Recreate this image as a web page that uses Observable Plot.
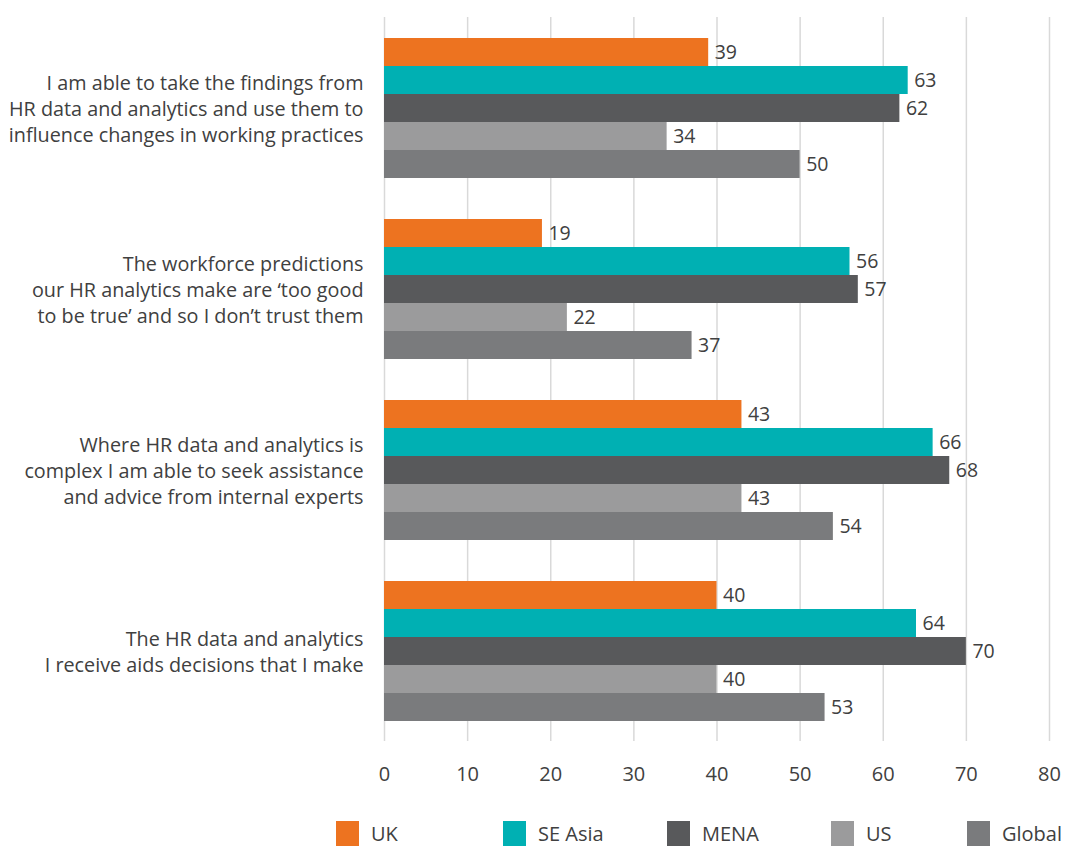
<!DOCTYPE html>
<html>
<head>
<meta charset="utf-8">
<script src="https://cdn.jsdelivr.net/npm/d3@7"></script>
<script src="https://cdn.jsdelivr.net/npm/@observablehq/plot@0.6"></script>
<style>
  body { margin: 0; background: #fff; }
  #wrap { position: relative; width: 1070px; height: 846px; overflow: hidden; font-family: "Open Sans", Lato, sans-serif; color: #404040; }
  #chart { position: absolute; left: 0; top: 0; }
  .lg { position: absolute; top: 821px; display: flex; align-items: flex-start; font-size: 20px; }
  .sw { width: 23px; height: 25px; margin-right: 12px; }
  .lt { line-height: 22px; padding-top: 2px; }
</style>
</head>
<body>
<div id="wrap">
  <div id="chart"></div>
  <div id="legend"></div>
</div>
<script>
const questions = [
  "I am able to take the findings from\nHR data and analytics and use them to\ninfluence changes in working practices",
  "The workforce predictions\nour HR analytics make are ‘too good\nto be true’ and so I don’t trust them",
  "Where HR data and analytics is\ncomplex I am able to seek assistance\nand advice from internal experts",
  "The HR data and analytics\nI receive aids decisions that I make"
];
const series = ["UK", "SE Asia", "MENA", "US", "Global"];
const colors = ["#ED7320", "#00B0B3", "#58595B", "#9B9B9C", "#7A7B7D"];
const uk = [39, 19, 43, 40];
const seAsia = [63, 56, 66, 64];
const mena = [62, 57, 68, 70];
const us = [34, 22, 43, 40];
const global = [50, 37, 54, 53];
const xTicks = [0, 10, 20, 30, 40, 50, 60, 70, 80];

const valuesBySeries = [uk, seAsia, mena, us, global];
const data = [];
questions.forEach((q, qi) => {
  series.forEach((s, si) => {
    data.push({question: q, series: s, value: valuesBySeries[si][qi]});
  });
});

const textColor = "#404040";

const chart = Plot.plot({
  width: 1070,
  height: 800,
  marginLeft: 384,
  marginRight: 21,
  marginTop: 16,
  marginBottom: 58,
  style: {fontFamily: "'Open Sans', Lato, sans-serif", fontSize: "20px", color: textColor, background: "#fff"},
  x: {domain: [0, 80], ticks: xTicks, tickSize: 0, tickPadding: 25, label: null, tickFormat: d => String(d)},
  y: {domain: series, paddingInner: 0, paddingOuter: 0.68, axis: null},
  fy: {domain: questions, padding: 0, axis: null},
  color: {domain: series, range: colors},
  marks: [
    Plot.gridX(xTicks, {stroke: "#d9d9d9", strokeOpacity: 1, strokeWidth: 1.5}),
    Plot.barX(data, {x: "value", y: "series", fy: "question", fill: "series", inset: 0}),
    Plot.text(data, {x: "value", y: "series", fy: "question", text: d => String(d.value), textAnchor: "start", dx: 6, fill: textColor, fontSize: 19.5}),
    Plot.text(questions, {fy: d => d, text: d => d, frameAnchor: "left", textAnchor: "end", dx: -21, lineHeight: 1.31, fill: textColor, fontSize: 19.8})
  ]
});
document.getElementById("chart").appendChild(chart);

const legendPos = [336, 503, 667, 831, 967];
const legend = document.getElementById("legend");
series.forEach((s, i) => {
  const item = document.createElement("div");
  item.className = "lg";
  item.style.left = legendPos[i] + "px";
  const sw = document.createElement("div");
  sw.className = "sw";
  sw.style.background = colors[i];
  const t = document.createElement("div");
  t.className = "lt";
  t.textContent = s;
  item.appendChild(sw);
  item.appendChild(t);
  legend.appendChild(item);
});
</script>
</body>
</html>
